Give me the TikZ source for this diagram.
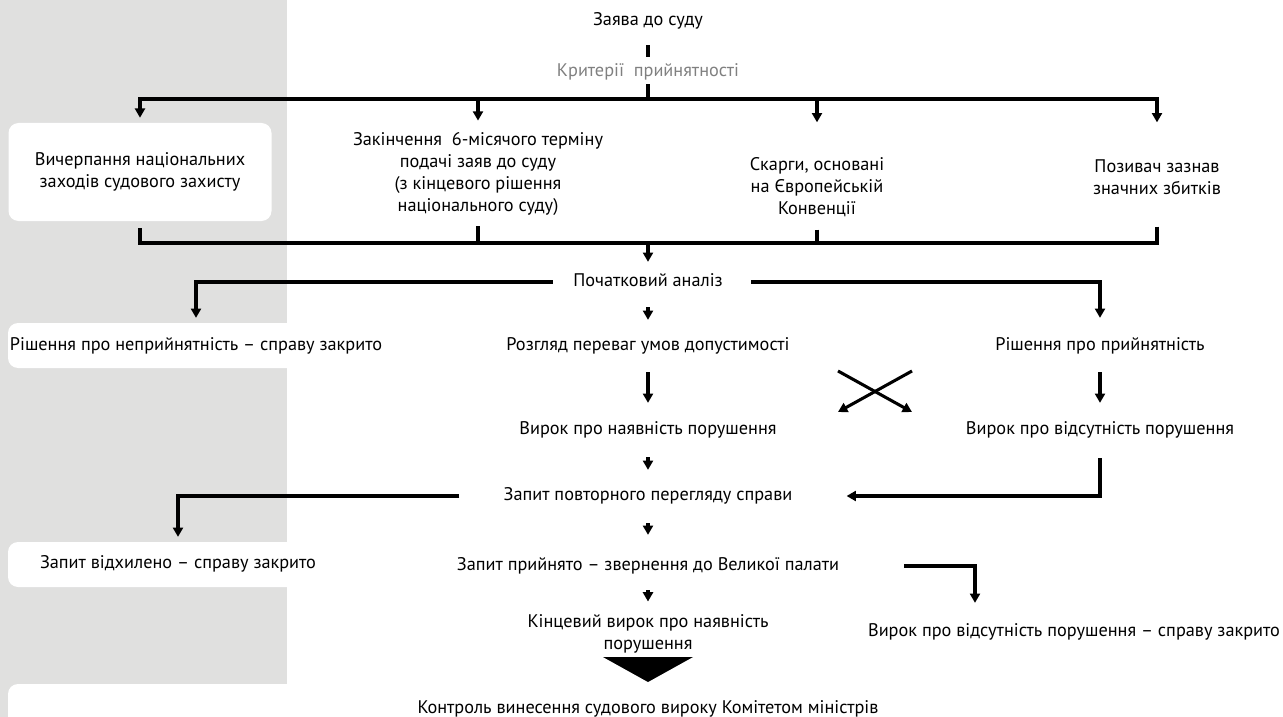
\documentclass[tikz,border=0pt]{standalone}
\usepackage{fontspec}
\setmainfont{PT Sans}
\usetikzlibrary{arrows.meta}
\definecolor{panel}{HTML}{E0E0DF}
\definecolor{critgray}{HTML}{808080}
\newdimen\pxu \pxu=0.75pt

\begin{document}
\begin{tikzpicture}[
    x=0.75pt, y=-0.75pt,
    every node/.style={font=\fontsize{13.7}{16.3}\selectfont,inner sep=0pt},
    txt/.style={text height=9pt,text depth=2.8pt},
    mtxt/.style={align=center},
    crbox/.style={align=center,fill=white,rounded corners=7.5pt,
                  minimum width=197.25pt,minimum height=73.5pt},
    fline/.style={line width=2.3pt},
    line/.style={-{Triangle[length=7pt,width=7.5pt]},line width=2.3pt}
]

% background panel and white strips
\useasboundingbox (0,0) rectangle (1283,717);
\fill[panel] (0,0) rectangle (287,717);
\fill[white,rounded corners=7.5pt] (8,323) rectangle (310,368);
\fill[white,rounded corners=7.5pt] (8,542) rectangle (310,587);
\fill[white,rounded corners=7.5pt] (8,684) rectangle (1300,740);

% application
\node[txt] (claim) at (648,21) {Заява до суду};
\node[txt,text=critgray] (crit) at (648,72) {Критерії\ \ прийнятності};
\coordinate (topjoin) at (648,99);
\draw[fline,shorten <=16\pxu,shorten >=7\pxu] (claim) -- (crit);
\draw[fline,shorten <=4\pxu] (crit) -- (topjoin);

% admissibility criteria
\node[crbox] (exhaust) at (140,172) {Вичерпання національних\\заходів судового захисту};
\node[mtxt] (term) at (478,174)
    {Закінчення\ \ 6-місячого терміну\\подачі заяв до суду\\(з кінцевого рішення\\національного суду)};
\node[mtxt] (complaint) at (817,187) {Скарги, основані\\на Європейській\\Конвенції};
\node[mtxt] (harm) at (1157,177) {Позивач зазнав\\значних збитків};

\draw[line,shorten >=5\pxu] (topjoin) -| (exhaust);
\draw[line,shorten >=12\pxu] (topjoin) -| (term);
\draw[line,shorten >=35\pxu] (topjoin) -| (complaint);
\draw[line,shorten >=37\pxu] (topjoin) -| (harm);

\coordinate (botjoin) at (648,243);
\draw[fline,shorten <=7\pxu] (exhaust) |- (botjoin);
\draw[fline,shorten <=11\pxu] (term) |- (botjoin);
\draw[fline,shorten <=13\pxu] (complaint) |- (botjoin);
\draw[fline,shorten <=32\pxu] (harm) |- (botjoin);

% initial analysis
\node[txt] (init) at (648,282) {Початковий аналіз};
\draw[line,shorten >=12\pxu] (botjoin) -- (init);

\node[txt] (refuse) at (196,346) {Рішення про неприйнятність – справу закрито};
\node[txt] (merits) at (648,346) {Розгляд переваг умов допустимості};
\node[txt] (accept) at (1100,346) {Рішення про прийнятність};
\draw[line,shorten <=20\pxu,shorten >=20\pxu] (init) -| (refuse);
\draw[line,shorten <=28\pxu,shorten >=20\pxu] (init) -| (accept);
\draw[line,shorten <=17\pxu,shorten >=18\pxu] (init) -- (merits);

% judgments
\node[txt] (violation) at (648,430) {Вирок про наявність порушення};
\node[txt] (noviol) at (1100,430) {Вирок про відсутність порушення};
\draw[line,shorten <=18\pxu,shorten >=19\pxu] (merits) -- (violation);
\draw[line,shorten <=18\pxu,shorten >=19\pxu] (accept) -- (noviol);
\draw[line] (838,371) -- (912,412);
\draw[line] (912,371) -- (838,412);

% referral request
\node[txt] (review) at (648,496) {Запит повторного перегляду справи};
\draw[line,shorten <=19\pxu,shorten >=18\pxu] (violation) -- (review);
\draw[line,shorten <=20\pxu,shorten >=54\pxu] (noviol) |- (review);

\node[txt] (rejected) at (178,564) {Запит відхилено – справу закрито};
\draw[line,shorten <=44\pxu,shorten >=19\pxu] (review) -| (rejected);

% grand chamber
\node[txt] (grand) at (648,566) {Запит прийнято – звернення до Великої палати};
\draw[line,shorten <=19\pxu,shorten >=23\pxu] (review) -- (grand);

\node[txt] (closed) at (1074,632) {Вирок про відсутність порушення – справу закрито};
\draw[line,shorten <=65\pxu,shorten >=21\pxu] (grand) -| ([xshift=-99\pxu]closed.north);

\node[mtxt] (final) at (648,634) {Кінцевий вирок про наявність\\порушення};
\draw[line,shorten <=16\pxu,shorten >=13\pxu] (grand) -- (final);

% execution
\fill (603,657) -- (693,657) -- (648,682) -- cycle;
\node[txt] (control) at (648,709) {Контроль винесення судового вироку Комітетом міністрів};

\end{tikzpicture}
\end{document}
